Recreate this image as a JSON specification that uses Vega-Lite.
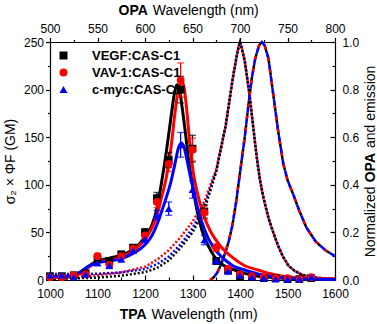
{
  "$schema": "https://vega.github.io/schema/vega-lite/v6.json",
  "width": 285,
  "height": 238,
  "autosize": {"type": "none"},
  "padding": {"left": 50, "top": 42, "right": 42, "bottom": 44},
  "background": "white",
  "config": {
    "font": "Liberation Sans",
    "view": {"stroke": null},
    "axis": {
      "domainColor": "black", "domainWidth": 1.2, "tickColor": "black", "tickWidth": 1.2,
      "labelColor": "black", "labelFont": "Liberation Sans", "labelFontSize": 12,
      "titleFont": "Liberation Sans", "titleFontSize": 14, "titleColor": "black",
      "titleFontWeight": "normal", "grid": false, "labelFlush": false, "labelOverlap": false
    }
  },
  "datasets": {
    "points": [
      {"series": "VEGF:CAS-C1", "tpa": 1000, "gm": 4, "err": 1.5},
      {"series": "VEGF:CAS-C1", "tpa": 1025, "gm": 4, "err": 1.5},
      {"series": "VEGF:CAS-C1", "tpa": 1050, "gm": 5, "err": 1.5},
      {"series": "VEGF:CAS-C1", "tpa": 1075, "gm": 7, "err": 2},
      {"series": "VEGF:CAS-C1", "tpa": 1100, "gm": 22, "err": 3},
      {"series": "VEGF:CAS-C1", "tpa": 1125, "gm": 20, "err": 3},
      {"series": "VEGF:CAS-C1", "tpa": 1150, "gm": 27, "err": 3},
      {"series": "VEGF:CAS-C1", "tpa": 1175, "gm": 34, "err": 3},
      {"series": "VEGF:CAS-C1", "tpa": 1200, "gm": 50, "err": 4},
      {"series": "VEGF:CAS-C1", "tpa": 1225, "gm": 86, "err": 6},
      {"series": "VEGF:CAS-C1", "tpa": 1250, "gm": 126, "err": 8},
      {"series": "VEGF:CAS-C1", "tpa": 1275, "gm": 200, "err": 14},
      {"series": "VEGF:CAS-C1", "tpa": 1300, "gm": 138, "err": 14},
      {"series": "VEGF:CAS-C1", "tpa": 1325, "gm": 72, "err": 7},
      {"series": "VEGF:CAS-C1", "tpa": 1350, "gm": 20, "err": 3},
      {"series": "VEGF:CAS-C1", "tpa": 1375, "gm": 10, "err": 2},
      {"series": "VEGF:CAS-C1", "tpa": 1400, "gm": 4, "err": 1.5},
      {"series": "VEGF:CAS-C1", "tpa": 1425, "gm": 3, "err": 1},
      {"series": "VEGF:CAS-C1", "tpa": 1450, "gm": 2, "err": 1},
      {"series": "VEGF:CAS-C1", "tpa": 1475, "gm": 2, "err": 1},
      {"series": "VEGF:CAS-C1", "tpa": 1500, "gm": 1, "err": 1},
      {"series": "VEGF:CAS-C1", "tpa": 1525, "gm": 1, "err": 1},
      {"series": "VEGF:CAS-C1", "tpa": 1550, "gm": 2, "err": 1},
      {"series": "VAV-1:CAS-C1", "tpa": 1000, "gm": 3, "err": 1.5},
      {"series": "VAV-1:CAS-C1", "tpa": 1025, "gm": 3, "err": 1.5},
      {"series": "VAV-1:CAS-C1", "tpa": 1050, "gm": 5, "err": 1.5},
      {"series": "VAV-1:CAS-C1", "tpa": 1075, "gm": 6, "err": 2},
      {"series": "VAV-1:CAS-C1", "tpa": 1100, "gm": 25, "err": 3},
      {"series": "VAV-1:CAS-C1", "tpa": 1125, "gm": 16, "err": 3},
      {"series": "VAV-1:CAS-C1", "tpa": 1150, "gm": 25, "err": 3},
      {"series": "VAV-1:CAS-C1", "tpa": 1175, "gm": 33, "err": 3},
      {"series": "VAV-1:CAS-C1", "tpa": 1200, "gm": 47, "err": 4},
      {"series": "VAV-1:CAS-C1", "tpa": 1225, "gm": 82, "err": 6},
      {"series": "VAV-1:CAS-C1", "tpa": 1250, "gm": 122, "err": 8},
      {"series": "VAV-1:CAS-C1", "tpa": 1275, "gm": 210, "err": 18},
      {"series": "VAV-1:CAS-C1", "tpa": 1300, "gm": 137, "err": 12},
      {"series": "VAV-1:CAS-C1", "tpa": 1325, "gm": 71, "err": 7},
      {"series": "VAV-1:CAS-C1", "tpa": 1350, "gm": 34, "err": 4},
      {"series": "VAV-1:CAS-C1", "tpa": 1375, "gm": 12, "err": 2},
      {"series": "VAV-1:CAS-C1", "tpa": 1400, "gm": 6, "err": 1.5},
      {"series": "VAV-1:CAS-C1", "tpa": 1425, "gm": 4, "err": 1},
      {"series": "VAV-1:CAS-C1", "tpa": 1450, "gm": 3, "err": 1},
      {"series": "VAV-1:CAS-C1", "tpa": 1475, "gm": 2, "err": 1},
      {"series": "VAV-1:CAS-C1", "tpa": 1500, "gm": 2, "err": 1},
      {"series": "VAV-1:CAS-C1", "tpa": 1525, "gm": 1, "err": 1},
      {"series": "VAV-1:CAS-C1", "tpa": 1550, "gm": 3, "err": 1},
      {"series": "c-myc:CAS-C1", "tpa": 1000, "gm": 5, "err": 1.5},
      {"series": "c-myc:CAS-C1", "tpa": 1025, "gm": 5, "err": 1.5},
      {"series": "c-myc:CAS-C1", "tpa": 1050, "gm": 3, "err": 1.5},
      {"series": "c-myc:CAS-C1", "tpa": 1075, "gm": 6, "err": 2},
      {"series": "c-myc:CAS-C1", "tpa": 1100, "gm": 18, "err": 3},
      {"series": "c-myc:CAS-C1", "tpa": 1125, "gm": 15, "err": 3},
      {"series": "c-myc:CAS-C1", "tpa": 1150, "gm": 22, "err": 3},
      {"series": "c-myc:CAS-C1", "tpa": 1175, "gm": 31, "err": 3},
      {"series": "c-myc:CAS-C1", "tpa": 1200, "gm": 43, "err": 4},
      {"series": "c-myc:CAS-C1", "tpa": 1225, "gm": 68, "err": 5},
      {"series": "c-myc:CAS-C1", "tpa": 1250, "gm": 75, "err": 7},
      {"series": "c-myc:CAS-C1", "tpa": 1275, "gm": 142, "err": 13},
      {"series": "c-myc:CAS-C1", "tpa": 1300, "gm": 95, "err": 9},
      {"series": "c-myc:CAS-C1", "tpa": 1325, "gm": 42, "err": 5},
      {"series": "c-myc:CAS-C1", "tpa": 1350, "gm": 20, "err": 3},
      {"series": "c-myc:CAS-C1", "tpa": 1375, "gm": 9, "err": 2},
      {"series": "c-myc:CAS-C1", "tpa": 1400, "gm": 5, "err": 1.5},
      {"series": "c-myc:CAS-C1", "tpa": 1425, "gm": 3, "err": 1},
      {"series": "c-myc:CAS-C1", "tpa": 1450, "gm": 2, "err": 1},
      {"series": "c-myc:CAS-C1", "tpa": 1475, "gm": 1, "err": 1},
      {"series": "c-myc:CAS-C1", "tpa": 1500, "gm": 1, "err": 1},
      {"series": "c-myc:CAS-C1", "tpa": 1525, "gm": 1, "err": 1},
      {"series": "c-myc:CAS-C1", "tpa": 1550, "gm": 3, "err": 1}
    ],
    "fits": [
      {"series": "VEGF:CAS-C1", "tpa": 1000, "gm": 3.5},
      {"series": "VEGF:CAS-C1", "tpa": 1030, "gm": 3.5},
      {"series": "VEGF:CAS-C1", "tpa": 1050, "gm": 4.5},
      {"series": "VEGF:CAS-C1", "tpa": 1065, "gm": 8},
      {"series": "VEGF:CAS-C1", "tpa": 1080, "gm": 14},
      {"series": "VEGF:CAS-C1", "tpa": 1100, "gm": 20},
      {"series": "VEGF:CAS-C1", "tpa": 1125, "gm": 23},
      {"series": "VEGF:CAS-C1", "tpa": 1150, "gm": 26},
      {"series": "VEGF:CAS-C1", "tpa": 1175, "gm": 32},
      {"series": "VEGF:CAS-C1", "tpa": 1200, "gm": 45},
      {"series": "VEGF:CAS-C1", "tpa": 1215, "gm": 58},
      {"series": "VEGF:CAS-C1", "tpa": 1225, "gm": 75},
      {"series": "VEGF:CAS-C1", "tpa": 1235, "gm": 103},
      {"series": "VEGF:CAS-C1", "tpa": 1245, "gm": 135},
      {"series": "VEGF:CAS-C1", "tpa": 1255, "gm": 172},
      {"series": "VEGF:CAS-C1", "tpa": 1262, "gm": 196},
      {"series": "VEGF:CAS-C1", "tpa": 1267, "gm": 205},
      {"series": "VEGF:CAS-C1", "tpa": 1272, "gm": 201},
      {"series": "VEGF:CAS-C1", "tpa": 1278, "gm": 182},
      {"series": "VEGF:CAS-C1", "tpa": 1285, "gm": 155},
      {"series": "VEGF:CAS-C1", "tpa": 1292, "gm": 125},
      {"series": "VEGF:CAS-C1", "tpa": 1300, "gm": 100},
      {"series": "VEGF:CAS-C1", "tpa": 1310, "gm": 72},
      {"series": "VEGF:CAS-C1", "tpa": 1320, "gm": 52},
      {"series": "VEGF:CAS-C1", "tpa": 1333, "gm": 36},
      {"series": "VEGF:CAS-C1", "tpa": 1347, "gm": 24},
      {"series": "VEGF:CAS-C1", "tpa": 1365, "gm": 15.5},
      {"series": "VEGF:CAS-C1", "tpa": 1389, "gm": 10.5},
      {"series": "VEGF:CAS-C1", "tpa": 1410, "gm": 7},
      {"series": "VEGF:CAS-C1", "tpa": 1438, "gm": 4},
      {"series": "VEGF:CAS-C1", "tpa": 1470, "gm": 2.5},
      {"series": "VEGF:CAS-C1", "tpa": 1520, "gm": 1.2},
      {"series": "VEGF:CAS-C1", "tpa": 1600, "gm": 0.5},
      {"series": "VAV-1:CAS-C1", "tpa": 1000, "gm": 2.5},
      {"series": "VAV-1:CAS-C1", "tpa": 1030, "gm": 3},
      {"series": "VAV-1:CAS-C1", "tpa": 1050, "gm": 4},
      {"series": "VAV-1:CAS-C1", "tpa": 1065, "gm": 7},
      {"series": "VAV-1:CAS-C1", "tpa": 1080, "gm": 13},
      {"series": "VAV-1:CAS-C1", "tpa": 1100, "gm": 19},
      {"series": "VAV-1:CAS-C1", "tpa": 1125, "gm": 21},
      {"series": "VAV-1:CAS-C1", "tpa": 1150, "gm": 24},
      {"series": "VAV-1:CAS-C1", "tpa": 1175, "gm": 31},
      {"series": "VAV-1:CAS-C1", "tpa": 1200, "gm": 43},
      {"series": "VAV-1:CAS-C1", "tpa": 1215, "gm": 55},
      {"series": "VAV-1:CAS-C1", "tpa": 1225, "gm": 68},
      {"series": "VAV-1:CAS-C1", "tpa": 1235, "gm": 87},
      {"series": "VAV-1:CAS-C1", "tpa": 1245, "gm": 108},
      {"series": "VAV-1:CAS-C1", "tpa": 1255, "gm": 140},
      {"series": "VAV-1:CAS-C1", "tpa": 1263, "gm": 175},
      {"series": "VAV-1:CAS-C1", "tpa": 1270, "gm": 200},
      {"series": "VAV-1:CAS-C1", "tpa": 1276, "gm": 210},
      {"series": "VAV-1:CAS-C1", "tpa": 1282, "gm": 203},
      {"series": "VAV-1:CAS-C1", "tpa": 1288, "gm": 178},
      {"series": "VAV-1:CAS-C1", "tpa": 1295, "gm": 140},
      {"series": "VAV-1:CAS-C1", "tpa": 1302, "gm": 112},
      {"series": "VAV-1:CAS-C1", "tpa": 1310, "gm": 92},
      {"series": "VAV-1:CAS-C1", "tpa": 1322, "gm": 70},
      {"series": "VAV-1:CAS-C1", "tpa": 1337, "gm": 52},
      {"series": "VAV-1:CAS-C1", "tpa": 1360, "gm": 35},
      {"series": "VAV-1:CAS-C1", "tpa": 1382, "gm": 24.5},
      {"series": "VAV-1:CAS-C1", "tpa": 1410, "gm": 15},
      {"series": "VAV-1:CAS-C1", "tpa": 1438, "gm": 10.5},
      {"series": "VAV-1:CAS-C1", "tpa": 1465, "gm": 6.5},
      {"series": "VAV-1:CAS-C1", "tpa": 1495, "gm": 3.5},
      {"series": "VAV-1:CAS-C1", "tpa": 1540, "gm": 2},
      {"series": "VAV-1:CAS-C1", "tpa": 1600, "gm": 1.2},
      {"series": "c-myc:CAS-C1", "tpa": 1000, "gm": 4},
      {"series": "c-myc:CAS-C1", "tpa": 1030, "gm": 4},
      {"series": "c-myc:CAS-C1", "tpa": 1050, "gm": 5},
      {"series": "c-myc:CAS-C1", "tpa": 1065, "gm": 9},
      {"series": "c-myc:CAS-C1", "tpa": 1080, "gm": 14},
      {"series": "c-myc:CAS-C1", "tpa": 1100, "gm": 18},
      {"series": "c-myc:CAS-C1", "tpa": 1125, "gm": 20},
      {"series": "c-myc:CAS-C1", "tpa": 1150, "gm": 22.5},
      {"series": "c-myc:CAS-C1", "tpa": 1175, "gm": 28},
      {"series": "c-myc:CAS-C1", "tpa": 1200, "gm": 37},
      {"series": "c-myc:CAS-C1", "tpa": 1215, "gm": 47},
      {"series": "c-myc:CAS-C1", "tpa": 1225, "gm": 58},
      {"series": "c-myc:CAS-C1", "tpa": 1235, "gm": 72},
      {"series": "c-myc:CAS-C1", "tpa": 1245, "gm": 87},
      {"series": "c-myc:CAS-C1", "tpa": 1255, "gm": 104},
      {"series": "c-myc:CAS-C1", "tpa": 1263, "gm": 122},
      {"series": "c-myc:CAS-C1", "tpa": 1270, "gm": 138},
      {"series": "c-myc:CAS-C1", "tpa": 1276, "gm": 144},
      {"series": "c-myc:CAS-C1", "tpa": 1282, "gm": 140},
      {"series": "c-myc:CAS-C1", "tpa": 1288, "gm": 127},
      {"series": "c-myc:CAS-C1", "tpa": 1295, "gm": 110},
      {"series": "c-myc:CAS-C1", "tpa": 1302, "gm": 95},
      {"series": "c-myc:CAS-C1", "tpa": 1312, "gm": 73},
      {"series": "c-myc:CAS-C1", "tpa": 1326, "gm": 52},
      {"series": "c-myc:CAS-C1", "tpa": 1343, "gm": 35},
      {"series": "c-myc:CAS-C1", "tpa": 1361, "gm": 24.5},
      {"series": "c-myc:CAS-C1", "tpa": 1385, "gm": 15},
      {"series": "c-myc:CAS-C1", "tpa": 1410, "gm": 10.5},
      {"series": "c-myc:CAS-C1", "tpa": 1440, "gm": 6},
      {"series": "c-myc:CAS-C1", "tpa": 1467, "gm": 3.5},
      {"series": "c-myc:CAS-C1", "tpa": 1500, "gm": 2},
      {"series": "c-myc:CAS-C1", "tpa": 1550, "gm": 1},
      {"series": "c-myc:CAS-C1", "tpa": 1600, "gm": 0.5}
    ],
    "opa": [
      {"series": "VEGF:CAS-C1", "kind": "abs", "opa": 500, "norm": 0.005},
      {"series": "VEGF:CAS-C1", "kind": "abs", "opa": 525, "norm": 0.007},
      {"series": "VEGF:CAS-C1", "kind": "abs", "opa": 550, "norm": 0.01},
      {"series": "VEGF:CAS-C1", "kind": "abs", "opa": 575, "norm": 0.018},
      {"series": "VEGF:CAS-C1", "kind": "abs", "opa": 600, "norm": 0.033},
      {"series": "VEGF:CAS-C1", "kind": "abs", "opa": 612.5, "norm": 0.05},
      {"series": "VEGF:CAS-C1", "kind": "abs", "opa": 625, "norm": 0.082},
      {"series": "VEGF:CAS-C1", "kind": "abs", "opa": 637.5, "norm": 0.135},
      {"series": "VEGF:CAS-C1", "kind": "abs", "opa": 650, "norm": 0.2},
      {"series": "VEGF:CAS-C1", "kind": "abs", "opa": 662.5, "norm": 0.295},
      {"series": "VEGF:CAS-C1", "kind": "abs", "opa": 675, "norm": 0.455},
      {"series": "VEGF:CAS-C1", "kind": "abs", "opa": 685, "norm": 0.65},
      {"series": "VEGF:CAS-C1", "kind": "abs", "opa": 692.5, "norm": 0.85},
      {"series": "VEGF:CAS-C1", "kind": "abs", "opa": 696.5, "norm": 0.94},
      {"series": "VEGF:CAS-C1", "kind": "abs", "opa": 698.5, "norm": 0.98},
      {"series": "VEGF:CAS-C1", "kind": "abs", "opa": 700, "norm": 1.0},
      {"series": "VEGF:CAS-C1", "kind": "abs", "opa": 701.5, "norm": 0.98},
      {"series": "VEGF:CAS-C1", "kind": "abs", "opa": 705, "norm": 0.92},
      {"series": "VEGF:CAS-C1", "kind": "abs", "opa": 710, "norm": 0.78},
      {"series": "VEGF:CAS-C1", "kind": "abs", "opa": 714, "norm": 0.64},
      {"series": "VEGF:CAS-C1", "kind": "abs", "opa": 717.5, "norm": 0.52},
      {"series": "VEGF:CAS-C1", "kind": "abs", "opa": 721, "norm": 0.42},
      {"series": "VEGF:CAS-C1", "kind": "abs", "opa": 725, "norm": 0.34},
      {"series": "VEGF:CAS-C1", "kind": "abs", "opa": 730, "norm": 0.26},
      {"series": "VEGF:CAS-C1", "kind": "abs", "opa": 735, "norm": 0.2},
      {"series": "VEGF:CAS-C1", "kind": "abs", "opa": 740, "norm": 0.145},
      {"series": "VEGF:CAS-C1", "kind": "abs", "opa": 745, "norm": 0.1},
      {"series": "VEGF:CAS-C1", "kind": "abs", "opa": 751, "norm": 0.06},
      {"series": "VEGF:CAS-C1", "kind": "abs", "opa": 757, "norm": 0.04},
      {"series": "VEGF:CAS-C1", "kind": "abs", "opa": 765, "norm": 0.022},
      {"series": "VEGF:CAS-C1", "kind": "abs", "opa": 775, "norm": 0.012},
      {"series": "VEGF:CAS-C1", "kind": "abs", "opa": 790, "norm": 0.006},
      {"series": "VEGF:CAS-C1", "kind": "abs", "opa": 800, "norm": 0.005},
      {"series": "VAV-1:CAS-C1", "kind": "abs", "opa": 500, "norm": 0.01},
      {"series": "VAV-1:CAS-C1", "kind": "abs", "opa": 525, "norm": 0.012},
      {"series": "VAV-1:CAS-C1", "kind": "abs", "opa": 550, "norm": 0.02},
      {"series": "VAV-1:CAS-C1", "kind": "abs", "opa": 575, "norm": 0.032},
      {"series": "VAV-1:CAS-C1", "kind": "abs", "opa": 600, "norm": 0.056},
      {"series": "VAV-1:CAS-C1", "kind": "abs", "opa": 612.5, "norm": 0.085},
      {"series": "VAV-1:CAS-C1", "kind": "abs", "opa": 625, "norm": 0.125},
      {"series": "VAV-1:CAS-C1", "kind": "abs", "opa": 637.5, "norm": 0.18},
      {"series": "VAV-1:CAS-C1", "kind": "abs", "opa": 650, "norm": 0.245},
      {"series": "VAV-1:CAS-C1", "kind": "abs", "opa": 662.5, "norm": 0.33},
      {"series": "VAV-1:CAS-C1", "kind": "abs", "opa": 675, "norm": 0.465},
      {"series": "VAV-1:CAS-C1", "kind": "abs", "opa": 685, "norm": 0.65},
      {"series": "VAV-1:CAS-C1", "kind": "abs", "opa": 692.5, "norm": 0.85},
      {"series": "VAV-1:CAS-C1", "kind": "abs", "opa": 696.5, "norm": 0.94},
      {"series": "VAV-1:CAS-C1", "kind": "abs", "opa": 698.5, "norm": 0.98},
      {"series": "VAV-1:CAS-C1", "kind": "abs", "opa": 700, "norm": 1.0},
      {"series": "VAV-1:CAS-C1", "kind": "abs", "opa": 701.5, "norm": 0.98},
      {"series": "VAV-1:CAS-C1", "kind": "abs", "opa": 705, "norm": 0.92},
      {"series": "VAV-1:CAS-C1", "kind": "abs", "opa": 710, "norm": 0.78},
      {"series": "VAV-1:CAS-C1", "kind": "abs", "opa": 714, "norm": 0.64},
      {"series": "VAV-1:CAS-C1", "kind": "abs", "opa": 717.5, "norm": 0.52},
      {"series": "VAV-1:CAS-C1", "kind": "abs", "opa": 721, "norm": 0.42},
      {"series": "VAV-1:CAS-C1", "kind": "abs", "opa": 725, "norm": 0.34},
      {"series": "VAV-1:CAS-C1", "kind": "abs", "opa": 730, "norm": 0.26},
      {"series": "VAV-1:CAS-C1", "kind": "abs", "opa": 735, "norm": 0.2},
      {"series": "VAV-1:CAS-C1", "kind": "abs", "opa": 740, "norm": 0.145},
      {"series": "VAV-1:CAS-C1", "kind": "abs", "opa": 745, "norm": 0.1},
      {"series": "VAV-1:CAS-C1", "kind": "abs", "opa": 751, "norm": 0.06},
      {"series": "VAV-1:CAS-C1", "kind": "abs", "opa": 757, "norm": 0.04},
      {"series": "VAV-1:CAS-C1", "kind": "abs", "opa": 765, "norm": 0.022},
      {"series": "VAV-1:CAS-C1", "kind": "abs", "opa": 775, "norm": 0.012},
      {"series": "VAV-1:CAS-C1", "kind": "abs", "opa": 790, "norm": 0.006},
      {"series": "VAV-1:CAS-C1", "kind": "abs", "opa": 800, "norm": 0.005},
      {"series": "c-myc:CAS-C1", "kind": "abs", "opa": 500, "norm": 0.025},
      {"series": "c-myc:CAS-C1", "kind": "abs", "opa": 525, "norm": 0.025},
      {"series": "c-myc:CAS-C1", "kind": "abs", "opa": 550, "norm": 0.026},
      {"series": "c-myc:CAS-C1", "kind": "abs", "opa": 575, "norm": 0.032},
      {"series": "c-myc:CAS-C1", "kind": "abs", "opa": 600, "norm": 0.046},
      {"series": "c-myc:CAS-C1", "kind": "abs", "opa": 612.5, "norm": 0.066},
      {"series": "c-myc:CAS-C1", "kind": "abs", "opa": 625, "norm": 0.098},
      {"series": "c-myc:CAS-C1", "kind": "abs", "opa": 637.5, "norm": 0.15},
      {"series": "c-myc:CAS-C1", "kind": "abs", "opa": 650, "norm": 0.218},
      {"series": "c-myc:CAS-C1", "kind": "abs", "opa": 662.5, "norm": 0.31},
      {"series": "c-myc:CAS-C1", "kind": "abs", "opa": 675, "norm": 0.46},
      {"series": "c-myc:CAS-C1", "kind": "abs", "opa": 685, "norm": 0.65},
      {"series": "c-myc:CAS-C1", "kind": "abs", "opa": 692.5, "norm": 0.85},
      {"series": "c-myc:CAS-C1", "kind": "abs", "opa": 696.5, "norm": 0.94},
      {"series": "c-myc:CAS-C1", "kind": "abs", "opa": 698.5, "norm": 0.98},
      {"series": "c-myc:CAS-C1", "kind": "abs", "opa": 700, "norm": 1.0},
      {"series": "c-myc:CAS-C1", "kind": "abs", "opa": 701.5, "norm": 0.98},
      {"series": "c-myc:CAS-C1", "kind": "abs", "opa": 705, "norm": 0.92},
      {"series": "c-myc:CAS-C1", "kind": "abs", "opa": 710, "norm": 0.78},
      {"series": "c-myc:CAS-C1", "kind": "abs", "opa": 714, "norm": 0.64},
      {"series": "c-myc:CAS-C1", "kind": "abs", "opa": 717.5, "norm": 0.52},
      {"series": "c-myc:CAS-C1", "kind": "abs", "opa": 721, "norm": 0.42},
      {"series": "c-myc:CAS-C1", "kind": "abs", "opa": 725, "norm": 0.34},
      {"series": "c-myc:CAS-C1", "kind": "abs", "opa": 730, "norm": 0.26},
      {"series": "c-myc:CAS-C1", "kind": "abs", "opa": 735, "norm": 0.2},
      {"series": "c-myc:CAS-C1", "kind": "abs", "opa": 740, "norm": 0.145},
      {"series": "c-myc:CAS-C1", "kind": "abs", "opa": 745, "norm": 0.1},
      {"series": "c-myc:CAS-C1", "kind": "abs", "opa": 751, "norm": 0.06},
      {"series": "c-myc:CAS-C1", "kind": "abs", "opa": 757, "norm": 0.04},
      {"series": "c-myc:CAS-C1", "kind": "abs", "opa": 765, "norm": 0.022},
      {"series": "c-myc:CAS-C1", "kind": "abs", "opa": 775, "norm": 0.012},
      {"series": "c-myc:CAS-C1", "kind": "abs", "opa": 790, "norm": 0.006},
      {"series": "c-myc:CAS-C1", "kind": "abs", "opa": 800, "norm": 0.005},
      {"series": "VEGF:CAS-C1", "kind": "em", "opa": 668.5, "norm": 0.0},
      {"series": "VEGF:CAS-C1", "kind": "em", "opa": 672, "norm": 0.01},
      {"series": "VEGF:CAS-C1", "kind": "em", "opa": 676, "norm": 0.03},
      {"series": "VEGF:CAS-C1", "kind": "em", "opa": 680, "norm": 0.065},
      {"series": "VEGF:CAS-C1", "kind": "em", "opa": 684, "norm": 0.11},
      {"series": "VEGF:CAS-C1", "kind": "em", "opa": 688, "norm": 0.16},
      {"series": "VEGF:CAS-C1", "kind": "em", "opa": 692, "norm": 0.23},
      {"series": "VEGF:CAS-C1", "kind": "em", "opa": 696, "norm": 0.33},
      {"series": "VEGF:CAS-C1", "kind": "em", "opa": 700, "norm": 0.45},
      {"series": "VEGF:CAS-C1", "kind": "em", "opa": 705, "norm": 0.6},
      {"series": "VEGF:CAS-C1", "kind": "em", "opa": 709, "norm": 0.74},
      {"series": "VEGF:CAS-C1", "kind": "em", "opa": 712.5, "norm": 0.85},
      {"series": "VEGF:CAS-C1", "kind": "em", "opa": 716, "norm": 0.93},
      {"series": "VEGF:CAS-C1", "kind": "em", "opa": 720, "norm": 0.985},
      {"series": "VEGF:CAS-C1", "kind": "em", "opa": 723, "norm": 1.0},
      {"series": "VEGF:CAS-C1", "kind": "em", "opa": 726, "norm": 0.985},
      {"series": "VEGF:CAS-C1", "kind": "em", "opa": 730, "norm": 0.93},
      {"series": "VEGF:CAS-C1", "kind": "em", "opa": 735, "norm": 0.78},
      {"series": "VEGF:CAS-C1", "kind": "em", "opa": 740, "norm": 0.63},
      {"series": "VEGF:CAS-C1", "kind": "em", "opa": 745.5, "norm": 0.49},
      {"series": "VEGF:CAS-C1", "kind": "em", "opa": 750, "norm": 0.42},
      {"series": "VEGF:CAS-C1", "kind": "em", "opa": 756, "norm": 0.36},
      {"series": "VEGF:CAS-C1", "kind": "em", "opa": 762.5, "norm": 0.29},
      {"series": "VEGF:CAS-C1", "kind": "em", "opa": 770, "norm": 0.22},
      {"series": "VEGF:CAS-C1", "kind": "em", "opa": 780, "norm": 0.16},
      {"series": "VEGF:CAS-C1", "kind": "em", "opa": 790, "norm": 0.125},
      {"series": "VEGF:CAS-C1", "kind": "em", "opa": 800, "norm": 0.1},
      {"series": "VAV-1:CAS-C1", "kind": "em", "opa": 668.5, "norm": 0.0},
      {"series": "VAV-1:CAS-C1", "kind": "em", "opa": 672, "norm": 0.01},
      {"series": "VAV-1:CAS-C1", "kind": "em", "opa": 676, "norm": 0.03},
      {"series": "VAV-1:CAS-C1", "kind": "em", "opa": 680, "norm": 0.065},
      {"series": "VAV-1:CAS-C1", "kind": "em", "opa": 684, "norm": 0.11},
      {"series": "VAV-1:CAS-C1", "kind": "em", "opa": 688, "norm": 0.16},
      {"series": "VAV-1:CAS-C1", "kind": "em", "opa": 692, "norm": 0.23},
      {"series": "VAV-1:CAS-C1", "kind": "em", "opa": 696, "norm": 0.33},
      {"series": "VAV-1:CAS-C1", "kind": "em", "opa": 700, "norm": 0.45},
      {"series": "VAV-1:CAS-C1", "kind": "em", "opa": 705, "norm": 0.6},
      {"series": "VAV-1:CAS-C1", "kind": "em", "opa": 709, "norm": 0.74},
      {"series": "VAV-1:CAS-C1", "kind": "em", "opa": 712.5, "norm": 0.85},
      {"series": "VAV-1:CAS-C1", "kind": "em", "opa": 716, "norm": 0.93},
      {"series": "VAV-1:CAS-C1", "kind": "em", "opa": 720, "norm": 0.985},
      {"series": "VAV-1:CAS-C1", "kind": "em", "opa": 723, "norm": 1.0},
      {"series": "VAV-1:CAS-C1", "kind": "em", "opa": 726, "norm": 0.985},
      {"series": "VAV-1:CAS-C1", "kind": "em", "opa": 730, "norm": 0.93},
      {"series": "VAV-1:CAS-C1", "kind": "em", "opa": 735, "norm": 0.78},
      {"series": "VAV-1:CAS-C1", "kind": "em", "opa": 740, "norm": 0.63},
      {"series": "VAV-1:CAS-C1", "kind": "em", "opa": 745.5, "norm": 0.49},
      {"series": "VAV-1:CAS-C1", "kind": "em", "opa": 750, "norm": 0.42},
      {"series": "VAV-1:CAS-C1", "kind": "em", "opa": 756, "norm": 0.36},
      {"series": "VAV-1:CAS-C1", "kind": "em", "opa": 762.5, "norm": 0.29},
      {"series": "VAV-1:CAS-C1", "kind": "em", "opa": 770, "norm": 0.22},
      {"series": "VAV-1:CAS-C1", "kind": "em", "opa": 780, "norm": 0.16},
      {"series": "VAV-1:CAS-C1", "kind": "em", "opa": 790, "norm": 0.125},
      {"series": "VAV-1:CAS-C1", "kind": "em", "opa": 800, "norm": 0.1},
      {"series": "c-myc:CAS-C1", "kind": "em", "opa": 668.5, "norm": 0.0},
      {"series": "c-myc:CAS-C1", "kind": "em", "opa": 672, "norm": 0.01},
      {"series": "c-myc:CAS-C1", "kind": "em", "opa": 676, "norm": 0.03},
      {"series": "c-myc:CAS-C1", "kind": "em", "opa": 680, "norm": 0.065},
      {"series": "c-myc:CAS-C1", "kind": "em", "opa": 684, "norm": 0.11},
      {"series": "c-myc:CAS-C1", "kind": "em", "opa": 688, "norm": 0.16},
      {"series": "c-myc:CAS-C1", "kind": "em", "opa": 692, "norm": 0.23},
      {"series": "c-myc:CAS-C1", "kind": "em", "opa": 696, "norm": 0.33},
      {"series": "c-myc:CAS-C1", "kind": "em", "opa": 700, "norm": 0.45},
      {"series": "c-myc:CAS-C1", "kind": "em", "opa": 705, "norm": 0.6},
      {"series": "c-myc:CAS-C1", "kind": "em", "opa": 709, "norm": 0.74},
      {"series": "c-myc:CAS-C1", "kind": "em", "opa": 712.5, "norm": 0.85},
      {"series": "c-myc:CAS-C1", "kind": "em", "opa": 716, "norm": 0.93},
      {"series": "c-myc:CAS-C1", "kind": "em", "opa": 720, "norm": 0.985},
      {"series": "c-myc:CAS-C1", "kind": "em", "opa": 723, "norm": 1.0},
      {"series": "c-myc:CAS-C1", "kind": "em", "opa": 726, "norm": 0.985},
      {"series": "c-myc:CAS-C1", "kind": "em", "opa": 730, "norm": 0.93},
      {"series": "c-myc:CAS-C1", "kind": "em", "opa": 735, "norm": 0.78},
      {"series": "c-myc:CAS-C1", "kind": "em", "opa": 740, "norm": 0.63},
      {"series": "c-myc:CAS-C1", "kind": "em", "opa": 745.5, "norm": 0.49},
      {"series": "c-myc:CAS-C1", "kind": "em", "opa": 750, "norm": 0.42},
      {"series": "c-myc:CAS-C1", "kind": "em", "opa": 756, "norm": 0.36},
      {"series": "c-myc:CAS-C1", "kind": "em", "opa": 762.5, "norm": 0.29},
      {"series": "c-myc:CAS-C1", "kind": "em", "opa": 770, "norm": 0.22},
      {"series": "c-myc:CAS-C1", "kind": "em", "opa": 780, "norm": 0.16},
      {"series": "c-myc:CAS-C1", "kind": "em", "opa": 790, "norm": 0.125},
      {"series": "c-myc:CAS-C1", "kind": "em", "opa": 800, "norm": 0.1}
    ]
  },
  "layer": [
    {
      "data": {"name": "opa"},
      "encoding": {
        "x": {"field": "opa", "type": "quantitative", "scale": {"domain": [500, 800], "nice": false, "zero": false}, "axis": null},
        "y": {"field": "norm", "type": "quantitative", "scale": {"domain": [0, 1], "nice": false}, "axis": null}
      },
      "layer": [
        {
          "transform": [{"filter": "datum.series === 'VAV-1:CAS-C1' && datum.kind === 'abs'"}],
          "mark": {"type": "line", "color": "#ff0000", "strokeWidth": 2.5, "strokeDash": [2, 2], "strokeDashOffset": 1},
          "encoding": {
            "x": {"field": "opa", "type": "quantitative", "scale": {"domain": [500, 800], "nice": false, "zero": false},
              "axis": {"orient": "top", "labels": false, "ticks": false, "domain": false, "title": "Wavelength (nm)", "titleAlign": "left", "titleAnchor": "start", "titleX": 102.2, "titleY": -28, "titleBaseline": "alphabetic"}}
          }
        },
        {
          "transform": [{"filter": "datum.series === 'c-myc:CAS-C1' && datum.kind === 'abs'"}],
          "mark": {"type": "line", "color": "#0000ff", "strokeWidth": 2.5, "strokeDash": [2, 2], "strokeDashOffset": 3},
          "encoding": {
            "y": {"field": "norm", "type": "quantitative", "scale": {"domain": [0, 1], "nice": false},
              "axis": {"orient": "right", "labels": false, "ticks": false, "domain": false, "title": "OPA", "titleFontWeight": "bold", "titleAngle": -90, "titleAlign": "left", "titleAnchor": "start", "titleX": 39, "titleY": 139.8, "titleBaseline": "alphabetic"}}
          }
        },
        {
          "transform": [{"filter": "datum.series === 'VEGF:CAS-C1' && datum.kind === 'abs'"}],
          "mark": {"type": "line", "color": "#000000", "strokeWidth": 2.5, "strokeDash": [2, 2], "strokeDashOffset": 0},
          "encoding": {
            "x": {"field": "opa", "type": "quantitative", "scale": {"domain": [500, 800], "nice": false, "zero": false},
              "axis": {"orient": "top", "values": [500, 525, 550, 575, 600, 625, 650, 675, 700, 725, 750, 775, 800], "format": "d",
                "labelExpr": "datum.value % 50 === 0 ? datum.label : ''",
                "tickSize": {"condition": {"test": "datum.value % 50 !== 0", "value": 2.5}, "value": 4.5},
                "labelPadding": 2, "title": "OPA", "titleFontWeight": "bold", "titleAlign": "left", "titleAnchor": "start", "titleX": 68, "titleY": -28, "titleBaseline": "alphabetic"}},
            "y": {"field": "norm", "type": "quantitative", "scale": {"domain": [0, 1], "nice": false},
              "axis": {"orient": "right", "values": [0, 0.1, 0.2, 0.3, 0.4, 0.5, 0.6, 0.7, 0.8, 0.9, 1.0],
                "labelExpr": "round(datum.value * 10) % 2 === 0 ? format(datum.value, '.1f') : ''",
                "tickSize": {"condition": {"test": "round(datum.value * 10) % 2 !== 0", "value": -3}, "value": -5},
                "labelPadding": 12, "title": "Normalized", "titleAngle": -90, "titleAlign": "left", "titleAnchor": "start", "titleX": 39, "titleY": 214.8, "titleBaseline": "alphabetic"}}
          }
        },
        {
          "transform": [{"filter": "datum.series === 'VEGF:CAS-C1' && datum.kind === 'em'"}],
          "mark": {"type": "line", "color": "#000000", "strokeWidth": 2.5, "strokeDash": [6, 6], "strokeDashOffset": 0},
          "encoding": {
            "y": {"field": "norm", "type": "quantitative", "scale": {"domain": [0, 1], "nice": false},
              "axis": {"orient": "right", "labels": false, "ticks": false, "domain": false, "title": "and emission", "titleAngle": -90, "titleAlign": "left", "titleAnchor": "start", "titleX": 39, "titleY": 105.6, "titleBaseline": "alphabetic"}}
          }
        },
        {
          "transform": [{"filter": "datum.series === 'VAV-1:CAS-C1' && datum.kind === 'em'"}],
          "mark": {"type": "line", "color": "#ff0000", "strokeWidth": 2.5, "strokeDash": [6, 6], "strokeDashOffset": 3}
        },
        {
          "transform": [{"filter": "datum.series === 'c-myc:CAS-C1' && datum.kind === 'em'"}],
          "mark": {"type": "line", "color": "#0000ff", "strokeWidth": 2.5, "strokeDash": [6, 6], "strokeDashOffset": 6}
        }
      ],
      "resolve": {"axis": {"x": "independent", "y": "independent"}}
    },
    {
      "encoding": {
        "x": {"field": "tpa", "type": "quantitative", "scale": {"domain": [1000, 1600], "nice": false, "zero": false}, "axis": null},
        "y": {"field": "gm", "type": "quantitative", "scale": {"domain": [0, 250], "nice": false}, "axis": null}
      },
      "layer": [
        {
          "data": {"name": "fits"},
          "mark": {"type": "line", "strokeWidth": 3, "interpolate": "monotone"},
          "encoding": {
            "color": {"field": "series", "type": "nominal", "scale": {"domain": ["c-myc:CAS-C1", "VAV-1:CAS-C1", "VEGF:CAS-C1"], "range": ["#0000ff", "#ff0000", "#000000"]}, "legend": null},
            "x": {"field": "tpa", "type": "quantitative", "scale": {"domain": [1000, 1600], "nice": false, "zero": false},
              "axis": {"orient": "bottom", "values": [1000, 1050, 1100, 1150, 1200, 1250, 1300, 1350, 1400, 1450, 1500, 1550, 1600], "format": "d",
                "labelExpr": "datum.value % 100 === 0 ? datum.label : ''",
                "tickSize": {"condition": {"test": "datum.value % 100 !== 0", "value": -3}, "value": -5},
                "labelPadding": 13, "title": "TPA", "titleFontWeight": "bold", "titleAlign": "left", "titleAnchor": "start", "titleX": 69.2, "titleY": 38, "titleBaseline": "alphabetic"}},
            "y": {"field": "gm", "type": "quantitative", "scale": {"domain": [0, 250], "nice": false},
              "axis": {"orient": "left", "values": [0, 25, 50, 75, 100, 125, 150, 175, 200, 225, 250],
                "labelExpr": "datum.value % 50 === 0 ? datum.label : ''",
                "tickSize": {"condition": {"test": "datum.value % 50 !== 0", "value": 2.5}, "value": 4.5},
                "labelPadding": 2, "title": "σ₂ × ΦF (GM)", "titleAngle": -90, "titleAlign": "center", "titleX": -36, "titleY": 119, "titleBaseline": "alphabetic"}}
          }
        },
        {
          "data": {"name": "points"},
          "mark": {"type": "errorbar", "ticks": {"size": 7}, "thickness": 1.3},
          "encoding": {
            "y": {"field": "gm", "type": "quantitative", "scale": {"domain": [0, 250], "nice": false}, "axis": null},
            "yError": {"field": "err"},
            "color": {"field": "series", "type": "nominal", "scale": {"domain": ["c-myc:CAS-C1", "VAV-1:CAS-C1", "VEGF:CAS-C1"], "range": ["#0000ff", "#ff0000", "#000000"]}, "legend": null}
          }
        },
        {
          "data": {"name": "points"},
          "mark": {"type": "point", "filled": true, "size": 60, "opacity": 1},
          "encoding": {
            "fill": {"field": "series", "type": "nominal", "scale": {"domain": ["VEGF:CAS-C1", "VAV-1:CAS-C1", "c-myc:CAS-C1"], "range": ["#000000", "#ff0000", "#0000ff"]},
              "legend": {"title": null, "orient": "top-left", "offset": 7, "padding": 0, "labelFont": "Liberation Sans", "labelFontSize": 13, "labelFontWeight": "bold", "labelColor": "black", "symbolSize": 64, "symbolStrokeWidth": 0, "rowPadding": 3, "labelOffset": 22}},
            "shape": {"field": "series", "type": "nominal", "scale": {"domain": ["VEGF:CAS-C1", "VAV-1:CAS-C1", "c-myc:CAS-C1"], "range": ["square", "circle", "triangle-up"]}},
            "x": {"field": "tpa", "type": "quantitative", "scale": {"domain": [1000, 1600], "nice": false, "zero": false},
              "axis": {"orient": "bottom", "labels": false, "ticks": false, "domain": false, "title": "Wavelength (nm)", "titleAlign": "left", "titleAnchor": "start", "titleX": 101.1, "titleY": 38, "titleBaseline": "alphabetic"}}
          }
        }
      ],
      "resolve": {"axis": {"x": "independent", "y": "independent"}}
    }
  ],
  "resolve": {"scale": {"x": "independent", "y": "independent"}}
}
